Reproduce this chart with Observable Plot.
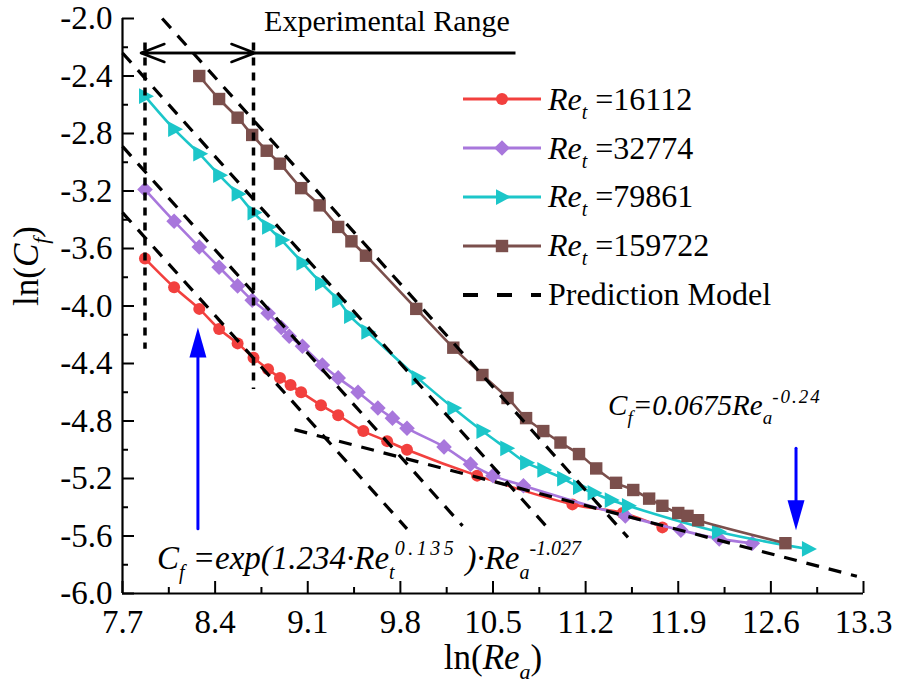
<!DOCTYPE html>
<html><head><meta charset="utf-8">
<script src="https://cdn.jsdelivr.net/npm/d3@7"></script>
<script src="https://cdn.jsdelivr.net/npm/@observablehq/plot@0.6"></script>
<style>
body{margin:0;background:#fff;}
#wrap{position:relative;width:898px;height:684px;font-family:"Liberation Serif","Times New Roman",serif;background:#fff;}
#wrap svg.chart{position:absolute;left:0;top:0;font-family:"Liberation Serif","Times New Roman",serif;}
#wrap svg.chart text{font-family:"Liberation Serif","Times New Roman",serif;}
#legend{position:absolute;left:463px;top:75px;}
.row{display:flex;align-items:center;height:48.8px;font-size:32px;color:#000;white-space:nowrap;}
.row svg{display:block;margin-right:7px;}
.row .sb{font-size:20px;position:relative;top:9px;font-style:italic;}
</style></head><body><div id="wrap"></div>
<script>
// ---- tick values ----
const xTicks = [7.7, 8.4, 9.1, 9.8, 10.5, 11.2, 11.9, 12.6, 13.3];
const xMinor = [8.05, 8.75, 9.45, 10.15, 10.85, 11.55, 12.25, 12.95];
const yTicks = [-6.0, -5.6, -5.2, -4.8, -4.4, -4.0, -3.6, -3.2, -2.8, -2.4, -2.0];
const yMinor = [-5.8, -5.4, -5.0, -4.6, -4.2, -3.8, -3.4, -3.0, -2.6, -2.2];

// ---- series (ln Re_a, ln Cf) ----
const seriesNames = ["16112", "32774", "79861", "159722"];
const redX = [7.87, 8.09, 8.28, 8.43, 8.57, 8.69, 8.80, 8.89, 8.97, 9.05, 9.20, 9.33, 9.52, 9.70, 9.85, 10.38, 11.10, 11.48, 11.78];
const redY = [-3.67, -3.87, -4.02, -4.16, -4.26, -4.36, -4.44, -4.50, -4.55, -4.60, -4.69, -4.76, -4.87, -4.94, -5.00, -5.18, -5.38, -5.44, -5.54];
const purpleX = [7.87, 8.09, 8.28, 8.43, 8.57, 8.68, 8.80, 8.90, 8.96, 9.06, 9.21, 9.33, 9.48, 9.63, 9.74, 9.85, 10.13, 10.33, 10.50, 10.73, 11.50, 11.92, 12.21, 12.46];
const purpleY = [-3.19, -3.41, -3.59, -3.73, -3.86, -3.96, -4.05, -4.15, -4.21, -4.28, -4.41, -4.50, -4.60, -4.71, -4.78, -4.85, -4.98, -5.10, -5.18, -5.25, -5.46, -5.56, -5.62, -5.65];
const cyanX = [7.87, 8.09, 8.28, 8.43, 8.57, 8.69, 8.80, 8.90, 9.06, 9.20, 9.33, 9.42, 9.55, 9.93, 10.20, 10.42, 10.60, 10.75, 10.88, 11.03, 11.15, 11.26, 11.39, 11.52, 12.20, 12.88];
const cyanY = [-2.54, -2.77, -2.94, -3.09, -3.22, -3.35, -3.45, -3.54, -3.70, -3.84, -3.96, -4.07, -4.18, -4.50, -4.71, -4.87, -4.99, -5.09, -5.14, -5.20, -5.26, -5.30, -5.35, -5.39, -5.57, -5.69];
const brownX = [8.28, 8.43, 8.57, 8.68, 8.79, 8.89, 9.05, 9.19, 9.33, 9.43, 9.54, 9.92, 10.20, 10.42, 10.61, 10.75, 10.88, 11.01, 11.15, 11.28, 11.43, 11.56, 11.68, 11.78, 11.90, 11.97, 12.05, 12.71];
const brownY = [-2.40, -2.56, -2.69, -2.81, -2.92, -3.01, -3.18, -3.30, -3.45, -3.55, -3.65, -4.02, -4.29, -4.48, -4.64, -4.78, -4.87, -4.95, -5.03, -5.13, -5.23, -5.28, -5.34, -5.39, -5.44, -5.46, -5.49, -5.65];

// ---- prediction model dashed lines (endpoints) ----
const modelX1 = [7.7, 7.7, 7.7, 8.0, 9.0];
const modelY1 = [-3.35, -2.89, -2.24, -2.0, -4.86];
const modelX2 = [9.85, 10.27, 10.91, 11.52, 13.25];
const modelY2 = [-5.55, -5.53, -5.54, -5.61, -5.88];

// ---- annotations ----
const rangeX = [7.84, 8.70];
const rangeY = -2.24;
const rangeLineEnd = 10.67;
const dotLineX = [7.87, 8.69];
const dotLineTop = [-2.17, -2.17];
const dotLineBottom = [-4.30, -4.58];
const blueX = [8.27, 12.79];
const blueFrom = [-5.55, -4.99];
const blueTip = [-4.15, -5.56];
const expLabel = "Experimental Range"; const expX = 8.77; const expY = -2.09;
const eq1Label = "Cf =exp(1.234·Ret0.135 )·Rea-1.027"; const eq1X = 7.96; const eq1Y = -5.83;
const eq2Label = "Cf=0.0675Rea-0.24"; const eq2X = 11.37; const eq2Y = -4.76;
const xTitle = "ln(Rea)"; const yTitle = "ln(Cf)";

// ---- styles ----
const seriesColors = ["#f2403e", "#a877dc", "#1cc6c9", "#7b4f4c"];
const rightTri = {draw(ctx, size){ const r = Math.sqrt(size/Math.PI); ctx.moveTo(1.2*r,0); ctx.lineTo(-0.8*r,-1.05*r); ctx.lineTo(-0.8*r,1.05*r); ctx.closePath(); }};
const diamond = {draw(ctx, size){ const r = Math.sqrt(size/Math.PI)*1.2; ctx.moveTo(0,-r); ctx.lineTo(r,0); ctx.lineTo(0,r); ctx.lineTo(-r,0); ctx.closePath(); }};
const symbols = [d3.symbolCircle, diamond, rightTri, d3.symbolSquare];
const radii = [6, 6.5, 7.5, 7];
const seriesXs = [redX, purpleX, cyanX, brownX];
const seriesYs = [redY, purpleY, cyanY, brownY];

const FONT = '"Liberation Serif", "Times New Roman", serif';
const marks = [];

// axes
marks.push(Plot.ruleX([xTicks[0]], {strokeWidth: 2.2}));
marks.push(Plot.ruleY([yTicks[0]], {strokeWidth: 2.2}));
marks.push(Plot.axisX(xTicks, {anchor: "bottom", tickSize: -12, tickPadding: 28, strokeWidth: 2, tickFormat: d => d.toFixed(1), label: null, fontFamily: FONT, fontSize: 33}));
marks.push(Plot.axisX(xMinor, {anchor: "bottom", tickSize: -6, strokeWidth: 2, tickFormat: () => "", label: null}));
marks.push(Plot.axisY(yTicks, {anchor: "left", tickSize: -12, tickPadding: 22, strokeWidth: 2, tickFormat: d => d.toFixed(1), label: null, fontFamily: FONT, fontSize: 33}));
marks.push(Plot.axisY(yMinor, {anchor: "left", tickSize: -6, strokeWidth: 2, tickFormat: () => "", label: null}));

// series
seriesNames.forEach((name, k) => {
  const rows = seriesXs[k].map((x, i) => ({series: name, x, y: seriesYs[k][i]}));
  marks.push(Plot.line(rows, {x: "x", y: "y", stroke: seriesColors[k], strokeWidth: 2.6, curve: "catmull-rom"}));
  marks.push(Plot.dot(rows, {x: "x", y: "y", symbol: symbols[k], r: radii[k], fill: seriesColors[k], stroke: null}));
});

// prediction model
const modelIdx = d3.range(modelX1.length);
marks.push(Plot.link(modelIdx, {x1: i => modelX1[i], y1: i => modelY1[i], x2: i => modelX2[i], y2: i => modelY2[i], stroke: "#000", strokeWidth: 3.2, strokeDasharray: "13,10"}));

// experimental range
const dotIdx = d3.range(dotLineX.length);
marks.push(Plot.ruleX(dotIdx, {x: i => dotLineX[i], y1: i => dotLineTop[i], y2: i => dotLineBottom[i], stroke: "#000", strokeWidth: 3.5, strokeDasharray: "8,7"}));
marks.push(Plot.arrow([0], {x1: () => rangeX[1], y1: () => rangeY, x2: () => rangeX[0], y2: () => rangeY, stroke: "#000", strokeWidth: 2.5, headLength: 15, headAngle: 42}));
marks.push(Plot.arrow([0], {x1: () => rangeX[0], y1: () => rangeY, x2: () => rangeX[1], y2: () => rangeY, stroke: "#000", strokeWidth: 2.5, headLength: 15, headAngle: 42}));
marks.push(Plot.link([0], {x1: () => rangeX[1], y1: () => rangeY, x2: () => rangeLineEnd, y2: () => rangeY, stroke: "#000", strokeWidth: 3}));
marks.push(Plot.text([expLabel], {x: () => expX, y: () => expY, textAnchor: "start", lineAnchor: "bottom", fontSize: 30, fontFamily: FONT}));

// blue arrows
const blueIdx = d3.range(blueX.length);
marks.push(Plot.arrow(blueIdx, {x1: i => blueX[i], y1: i => blueFrom[i], x2: i => blueX[i], y2: i => blueTip[i], stroke: "#0000ff", strokeWidth: 3, headLength: 0, insetEnd: 24}));
marks.push(Plot.vector(blueIdx, {x: i => blueX[i], y: i => blueTip[i], length: 30, r: 8.5, rotate: i => blueTip[i] > blueFrom[i] ? 0 : 180, anchor: "end", shape: "spike", fill: "#0000ff", stroke: "none"}));

// equations
marks.push(Plot.text([eq1Label], {x: () => eq1X, y: () => eq1Y, textAnchor: "start", lineAnchor: "bottom", fontSize: 33, fontStyle: "italic", fontFamily: FONT}));
marks.push(Plot.text([eq2Label], {x: () => eq2X, y: () => eq2Y, textAnchor: "start", lineAnchor: "bottom", fontSize: 29, fontStyle: "italic", fontFamily: FONT}));

// axis titles
marks.push(Plot.text([xTitle], {frameAnchor: "bottom", dy: 75, lineAnchor: "bottom", fontSize: 35, fontFamily: FONT}));
marks.push(Plot.text([yTitle], {frameAnchor: "left", dx: -85, rotate: -90, lineAnchor: "bottom", fontSize: 35, fontFamily: FONT}));

const chart = Plot.plot({
  width: 898, height: 684,
  marginLeft: 122, marginRight: 35, marginTop: 18, marginBottom: 91,
  style: {fontFamily: FONT, fontSize: "32px", color: "#000", background: "transparent", overflow: "visible"},
  x: {domain: [xTicks[0], xTicks[xTicks.length - 1]]},
  y: {domain: [yTicks[0], yTicks[yTicks.length - 1]]},
  marks
});
chart.classList.add("chart");
chart.style.fontFamily = FONT;
document.getElementById("wrap").appendChild(chart);

// rich text (italic, sub/superscripts) — find the text element by its content
function rich(label, parts, base, small) {
  const node = Array.from(chart.querySelectorAll("text")).find(n => n.textContent === label);
  if (!node) return;
  const t = d3.select(node); t.text(null);
  let cur = 0;
  for (const p of parts) {
    const isSmall = p.sub || p.sup;
    const target = p.sub ? base * 0.3 : p.sup ? -base * 0.42 : 0;
    const ts = t.append("tspan").text(p.t).attr("font-size", isSmall ? small : base).attr("dy", target - cur);
    if (p.ls) ts.attr("letter-spacing", p.ls);
    ts.attr("font-style", p.i ? "italic" : "normal");
    cur = target;
  }
}
rich(xTitle, [{t: "ln("}, {t: "Re", i: 1}, {t: "a", i: 1, sub: 1}, {t: ")"}], 35, 22);
rich(yTitle, [{t: "ln("}, {t: "C", i: 1}, {t: "f", i: 1, sub: 1}, {t: ")"}], 35, 22);
rich(eq1Label, [{t: "C", i: 1}, {t: "f", i: 1, sub: 1}, {t: " =exp(1.234·Re", i: 1}, {t: "t", i: 1, sub: 1}, {t: "0.135", i: 1, sup: 1, ls: 3.5}, {t: " )·Re", i: 1}, {t: "a", i: 1, sub: 1}, {t: "-1.027", i: 1, sup: 1}], 33, 20);
rich(eq2Label, [{t: "C", i: 1}, {t: "f", i: 1, sub: 1}, {t: "=0.0675Re", i: 1}, {t: "a", i: 1, sub: 1}, {t: "-0.24", i: 1, sup: 1, ls: 2}], 29, 19);

// legend (HTML overlay)
const legend = d3.select("#wrap").append("div").attr("id", "legend");
seriesNames.forEach((name, k) => {
  const row = legend.append("div").attr("class", "row");
  const s = row.append("svg").attr("width", 78).attr("height", 24);
  s.append("line").attr("x1", 0).attr("x2", 78).attr("y1", 12).attr("y2", 12).attr("stroke", seriesColors[k]).attr("stroke-width", 3);
  s.append("path").attr("transform", "translate(39,12)").attr("d", d3.symbol(symbols[k], Math.PI * radii[k] * radii[k])()).attr("fill", seriesColors[k]);
  const lab = row.append("span");
  lab.append("i").text("Re");
  lab.append("span").attr("class", "sb").text("t");
  lab.append("span").text(" =" + name);
});
const prow = legend.append("div").attr("class", "row");
const ps = prow.append("svg").attr("width", 78).attr("height", 24);
ps.append("line").attr("x1", 0).attr("x2", 78).attr("y1", 12).attr("y2", 12).attr("stroke", "#000").attr("stroke-width", 4).attr("stroke-dasharray", "15,19");
prow.append("span").text("Prediction Model");
</script>
</body></html>
